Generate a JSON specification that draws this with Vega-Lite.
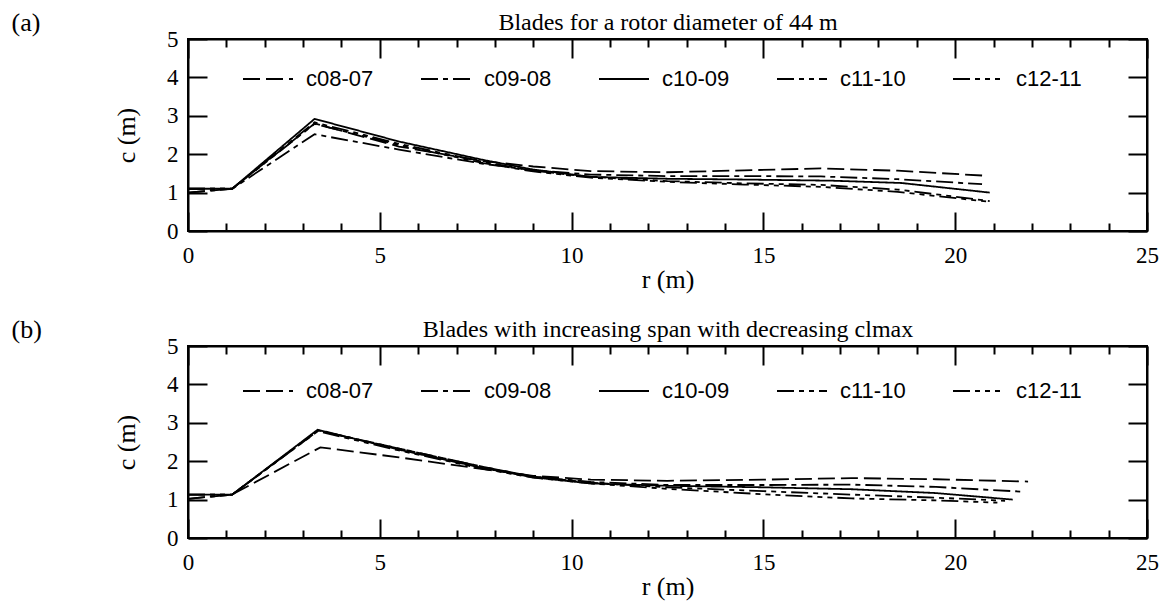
{
  "$schema": "https://vega.github.io/schema/vega-lite/v6.json",
  "background": "white",
  "padding": {"left": 10, "top": 9, "right": 5, "bottom": 3},
  "spacing": 23,
  "resolve": {"scale": {"strokeDash": "independent"}, "legend": {"strokeDash": "independent"}},
  "config": {
    "view": {"stroke": "black", "strokeWidth": 2},
    "axis": {"domainColor": "black", "domainWidth": 2, "tickColor": "black", "tickWidth": 2, "labelColor": "black", "titleColor": "black", "labelFont": "Liberation Serif", "titleFont": "Liberation Serif", "labelFontSize": 23, "titleFontSize": 26, "titleFontWeight": "normal", "grid": false, "labelOverlap": false, "labelFlush": false},
    "title": {"font": "Liberation Serif", "fontSize": 26, "fontWeight": "normal", "color": "black", "anchor": "start", "frame": "bounds", "offset": 0},
    "legend": {"labelFont": "Liberation Sans", "labelFontSize": 22, "labelColor": "black", "padding": 0}
  },
  "datasets": {
    "a": [
      {"s": "c08-07", "r": 0, "c": 1.0}, {"s": "c08-07", "r": 1.15, "c": 1.1}, {"s": "c08-07", "r": 3.3, "c": 2.8}, {"s": "c08-07", "r": 5.5, "c": 2.2}, {"s": "c08-07", "r": 7.7, "c": 1.82}, {"s": "c08-07", "r": 9, "c": 1.68}, {"s": "c08-07", "r": 10.5, "c": 1.56}, {"s": "c08-07", "r": 12.5, "c": 1.53}, {"s": "c08-07", "r": 14.5, "c": 1.58}, {"s": "c08-07", "r": 16.5, "c": 1.63}, {"s": "c08-07", "r": 18.5, "c": 1.57}, {"s": "c08-07", "r": 20.8, "c": 1.44},
      {"s": "c09-08", "r": 0, "c": 1.0}, {"s": "c09-08", "r": 1.15, "c": 1.1}, {"s": "c09-08", "r": 3.3, "c": 2.52}, {"s": "c09-08", "r": 5.5, "c": 2.12}, {"s": "c09-08", "r": 7.7, "c": 1.75}, {"s": "c09-08", "r": 9, "c": 1.58}, {"s": "c09-08", "r": 10.5, "c": 1.47}, {"s": "c09-08", "r": 12.5, "c": 1.43}, {"s": "c09-08", "r": 14.5, "c": 1.43}, {"s": "c09-08", "r": 16.5, "c": 1.42}, {"s": "c09-08", "r": 18.5, "c": 1.35}, {"s": "c09-08", "r": 20.7, "c": 1.22},
      {"s": "c10-09", "r": 0, "c": 1.1}, {"s": "c10-09", "r": 1.15, "c": 1.1}, {"s": "c10-09", "r": 3.3, "c": 2.92}, {"s": "c10-09", "r": 5.5, "c": 2.33}, {"s": "c10-09", "r": 7.7, "c": 1.85}, {"s": "c10-09", "r": 9, "c": 1.6}, {"s": "c10-09", "r": 10.5, "c": 1.41}, {"s": "c10-09", "r": 12.5, "c": 1.36}, {"s": "c10-09", "r": 14.5, "c": 1.34}, {"s": "c10-09", "r": 16.8, "c": 1.31}, {"s": "c10-09", "r": 18.6, "c": 1.25}, {"s": "c10-09", "r": 20.9, "c": 1.0},
      {"s": "c11-10", "r": 0, "c": 1.1}, {"s": "c11-10", "r": 1.15, "c": 1.1}, {"s": "c11-10", "r": 3.3, "c": 2.83}, {"s": "c11-10", "r": 5.5, "c": 2.27}, {"s": "c11-10", "r": 7.7, "c": 1.8}, {"s": "c11-10", "r": 9, "c": 1.57}, {"s": "c11-10", "r": 10.5, "c": 1.41}, {"s": "c11-10", "r": 12.5, "c": 1.3}, {"s": "c11-10", "r": 14.5, "c": 1.24}, {"s": "c11-10", "r": 16.5, "c": 1.2}, {"s": "c11-10", "r": 18.5, "c": 1.08}, {"s": "c11-10", "r": 20.9, "c": 0.78},
      {"s": "c12-11", "r": 0, "c": 1.1}, {"s": "c12-11", "r": 1.15, "c": 1.1}, {"s": "c12-11", "r": 3.3, "c": 2.79}, {"s": "c12-11", "r": 5.5, "c": 2.24}, {"s": "c12-11", "r": 7.7, "c": 1.77}, {"s": "c12-11", "r": 9, "c": 1.55}, {"s": "c12-11", "r": 10.5, "c": 1.39}, {"s": "c12-11", "r": 12.5, "c": 1.28}, {"s": "c12-11", "r": 14.5, "c": 1.21}, {"s": "c12-11", "r": 16.5, "c": 1.15}, {"s": "c12-11", "r": 18.5, "c": 1.02}, {"s": "c12-11", "r": 20.9, "c": 0.76}
    ],
    "b": [
      {"s": "c08-07", "r": 0, "c": 1.02}, {"s": "c08-07", "r": 1.15, "c": 1.13}, {"s": "c08-07", "r": 3.45, "c": 2.36}, {"s": "c08-07", "r": 5.5, "c": 2.1}, {"s": "c08-07", "r": 7.5, "c": 1.82}, {"s": "c08-07", "r": 9, "c": 1.62}, {"s": "c08-07", "r": 10.5, "c": 1.52}, {"s": "c08-07", "r": 12.5, "c": 1.49}, {"s": "c08-07", "r": 15, "c": 1.52}, {"s": "c08-07", "r": 17.3, "c": 1.56}, {"s": "c08-07", "r": 19.5, "c": 1.53}, {"s": "c08-07", "r": 21.9, "c": 1.47},
      {"s": "c09-08", "r": 0, "c": 1.02}, {"s": "c09-08", "r": 1.15, "c": 1.13}, {"s": "c09-08", "r": 3.4, "c": 2.8}, {"s": "c09-08", "r": 5.5, "c": 2.33}, {"s": "c09-08", "r": 7.7, "c": 1.85}, {"s": "c09-08", "r": 9, "c": 1.6}, {"s": "c09-08", "r": 10.5, "c": 1.46}, {"s": "c09-08", "r": 12.5, "c": 1.38}, {"s": "c09-08", "r": 15, "c": 1.38}, {"s": "c09-08", "r": 17.3, "c": 1.39}, {"s": "c09-08", "r": 19.5, "c": 1.33}, {"s": "c09-08", "r": 21.7, "c": 1.21},
      {"s": "c10-09", "r": 0, "c": 1.13}, {"s": "c10-09", "r": 1.15, "c": 1.13}, {"s": "c10-09", "r": 3.38, "c": 2.82}, {"s": "c10-09", "r": 5.5, "c": 2.3}, {"s": "c10-09", "r": 7.7, "c": 1.82}, {"s": "c10-09", "r": 9, "c": 1.58}, {"s": "c10-09", "r": 10.5, "c": 1.42}, {"s": "c10-09", "r": 12.5, "c": 1.36}, {"s": "c10-09", "r": 15, "c": 1.32}, {"s": "c10-09", "r": 17.3, "c": 1.27}, {"s": "c10-09", "r": 19.5, "c": 1.17}, {"s": "c10-09", "r": 21.5, "c": 1.0},
      {"s": "c11-10", "r": 0, "c": 1.13}, {"s": "c11-10", "r": 1.15, "c": 1.13}, {"s": "c11-10", "r": 3.38, "c": 2.8}, {"s": "c11-10", "r": 5.5, "c": 2.33}, {"s": "c11-10", "r": 7.7, "c": 1.85}, {"s": "c11-10", "r": 9, "c": 1.6}, {"s": "c11-10", "r": 10.5, "c": 1.44}, {"s": "c11-10", "r": 12.5, "c": 1.32}, {"s": "c11-10", "r": 15, "c": 1.22}, {"s": "c11-10", "r": 17.3, "c": 1.13}, {"s": "c11-10", "r": 19.5, "c": 1.05}, {"s": "c11-10", "r": 21.3, "c": 0.97},
      {"s": "c12-11", "r": 0, "c": 1.13}, {"s": "c12-11", "r": 1.15, "c": 1.13}, {"s": "c12-11", "r": 3.38, "c": 2.78}, {"s": "c12-11", "r": 5.5, "c": 2.28}, {"s": "c12-11", "r": 7.7, "c": 1.8}, {"s": "c12-11", "r": 9, "c": 1.57}, {"s": "c12-11", "r": 10.5, "c": 1.42}, {"s": "c12-11", "r": 12.5, "c": 1.28}, {"s": "c12-11", "r": 15, "c": 1.14}, {"s": "c12-11", "r": 17.3, "c": 1.03}, {"s": "c12-11", "r": 19.5, "c": 0.98}, {"s": "c12-11", "r": 21.1, "c": 0.92}
    ]
  },
  "vconcat": [
    {
      "title": {"text": "(a)", "dx": -102, "dy": 30},
      "width": 959,
      "height": 192,
      "data": {"name": "a"},
      "resolve": {"axis": {"x": "independent", "y": "independent"}},
      "layer": [
        {
          "mark": {"type": "line", "color": "black", "strokeWidth": 1.8},
          "encoding": {
            "x": {"field": "r", "type": "quantitative", "scale": {"domain": [0, 25], "nice": false}, "axis": {"orient": "bottom", "values": [0,1,2,3,4,5,6,7,8,9,10,11,12,13,14,15,16,17,18,19,20,21,22,23,24,25], "tickSize": {"condition": {"test": "datum.value % 5 === 0", "value": -19}, "value": -8}, "labelExpr": "datum.value % 5 === 0 ? datum.label : ''", "labelPadding": 32, "title": "r (m)", "titlePadding": -12}},
            "y": {"field": "c", "type": "quantitative", "scale": {"domain": [0, 5], "nice": false}, "axis": {"orient": "left", "values": [0,1,2,3,4,5], "tickSize": -19, "labelPadding": 29, "title": "c (m)", "titlePadding": 27}},
            "strokeDash": {"field": "s", "type": "nominal", "scale": {"domain": ["c08-07", "c09-08", "c10-09", "c11-10", "c12-11"], "range": [[17, 6], [17, 5, 5, 5], [1, 0], [17, 5, 5, 5, 5, 5], [17, 5, 5, 5, 5, 5, 5, 5]]}, "legend": {"orient": "none", "legendX": 54, "legendY": 14, "direction": "horizontal", "title": null, "symbolType": "stroke", "symbolSize": 2500, "symbolStrokeWidth": 1.8, "symbolStrokeColor": "black", "labelOffset": 12, "columnPadding": 43}}
          }
        },
        {
          "mark": {"type": "line", "opacity": 0},
          "encoding": {
            "x": {"field": "r", "type": "quantitative", "axis": {"orient": "top", "values": [0,1,2,3,4,5,6,7,8,9,10,11,12,13,14,15,16,17,18,19,20,21,22,23,24,25], "tickSize": {"condition": {"test": "datum.value % 5 === 0", "value": -19}, "value": -8}, "labels": false, "title": "Blades for a rotor diameter of 44 m", "titleFontSize": 24, "titlePadding": 4}},
            "y": {"field": "c", "type": "quantitative", "axis": {"orient": "right", "values": [0,1,2,3,4,5], "tickSize": -19, "labels": false, "title": null}},
            "detail": {"field": "s", "type": "nominal"}
          }
        }
      ]
    },
    {
      "title": {"text": "(b)", "dx": -102, "dy": 30},
      "width": 959,
      "height": 192,
      "data": {"name": "b"},
      "resolve": {"axis": {"x": "independent", "y": "independent"}},
      "layer": [
        {
          "mark": {"type": "line", "color": "black", "strokeWidth": 1.8},
          "encoding": {
            "x": {"field": "r", "type": "quantitative", "scale": {"domain": [0, 25], "nice": false}, "axis": {"orient": "bottom", "values": [0,1,2,3,4,5,6,7,8,9,10,11,12,13,14,15,16,17,18,19,20,21,22,23,24,25], "tickSize": {"condition": {"test": "datum.value % 5 === 0", "value": -19}, "value": -8}, "labelExpr": "datum.value % 5 === 0 ? datum.label : ''", "labelPadding": 32, "title": "r (m)", "titlePadding": -12}},
            "y": {"field": "c", "type": "quantitative", "scale": {"domain": [0, 5], "nice": false}, "axis": {"orient": "left", "values": [0,1,2,3,4,5], "tickSize": -19, "labelPadding": 29, "title": "c (m)", "titlePadding": 27}},
            "strokeDash": {"field": "s", "type": "nominal", "scale": {"domain": ["c08-07", "c09-08", "c10-09", "c11-10", "c12-11"], "range": [[17, 6], [17, 5, 5, 5], [1, 0], [17, 5, 5, 5, 5, 5], [17, 5, 5, 5, 5, 5, 5, 5]]}, "legend": {"orient": "none", "legendX": 54, "legendY": 19, "direction": "horizontal", "title": null, "symbolType": "stroke", "symbolSize": 2500, "symbolStrokeWidth": 1.8, "symbolStrokeColor": "black", "labelOffset": 12, "columnPadding": 43}}
          }
        },
        {
          "mark": {"type": "line", "opacity": 0},
          "encoding": {
            "x": {"field": "r", "type": "quantitative", "axis": {"orient": "top", "values": [0,1,2,3,4,5,6,7,8,9,10,11,12,13,14,15,16,17,18,19,20,21,22,23,24,25], "tickSize": {"condition": {"test": "datum.value % 5 === 0", "value": -19}, "value": -8}, "labels": false, "title": "Blades with increasing span with decreasing clmax", "titleFontSize": 24, "titlePadding": 4}},
            "y": {"field": "c", "type": "quantitative", "axis": {"orient": "right", "values": [0,1,2,3,4,5], "tickSize": -19, "labels": false, "title": null}},
            "detail": {"field": "s", "type": "nominal"}
          }
        }
      ]
    }
  ]
}
